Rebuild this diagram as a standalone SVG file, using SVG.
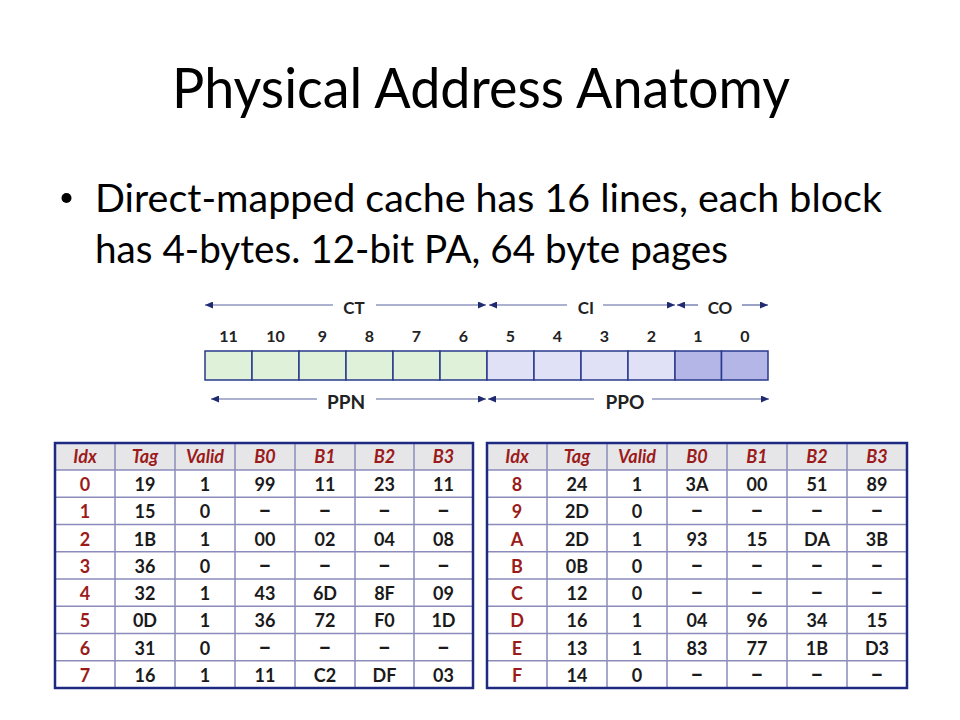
<svg xmlns="http://www.w3.org/2000/svg" width="960" height="720" viewBox="0 0 960 720">
<defs>
<marker id="ah" viewBox="0 0 8 7" refX="8" refY="3.5" markerWidth="8" markerHeight="7" markerUnits="userSpaceOnUse" orient="auto-start-reverse">
<path d="M0,0 L8,3.5 L0,7 z" fill="#1f2a70"/>
</marker>
</defs>
<style>
.title{font-family:Lato,"Open Sans","Liberation Sans",sans-serif;font-size:56px;fill:#000}
.bul{font-family:Lato,"Open Sans","Liberation Sans",sans-serif;font-size:38px;fill:#000}
.lbl{font-family:Lato,"Liberation Sans",sans-serif;font-weight:bold;font-size:17px;fill:#222;text-anchor:middle}
.lbl2{font-family:Lato,"Liberation Sans",sans-serif;font-weight:bold;font-size:19px;fill:#222;text-anchor:middle}
.bit{font-family:Lato,"Liberation Sans",sans-serif;font-weight:bold;font-size:16px;fill:#222;text-anchor:middle}
.g{fill:#e0f1da;stroke:#2a3a8c;stroke-width:1.5}
.p{fill:#e0e0f6;stroke:#2a3a8c;stroke-width:1.5}
.d{fill:#b4b6e8;stroke:#2a3a8c;stroke-width:1.5}
.ar{stroke:#5a64a0;stroke-width:1.2;fill:none}
.hdr{fill:#e6e6e8}
.grid{stroke:#8c8cbc;stroke-width:1.5;fill:none}
.frame{stroke:#1e2a82;stroke-width:2.5;fill:none}
.h{font-family:Lato,"Liberation Sans",sans-serif;font-weight:bold;font-style:italic;font-size:18px;fill:#9b1b1b;text-anchor:middle}
.i{font-family:Lato,"Liberation Sans",sans-serif;font-weight:bold;font-size:18px;fill:#9b1b1b;text-anchor:middle}
.c{font-family:Lato,"Liberation Sans",sans-serif;font-weight:bold;font-size:18px;fill:#1a1a1a;text-anchor:middle}
.x{font-family:Lato,"Liberation Sans",sans-serif;font-weight:900;font-size:23px;fill:#1a1a1a;text-anchor:middle}
</style>
<rect width="960" height="720" fill="#fff"/>

<g id="title">
<text class="title" x="172" y="108" textLength="618" lengthAdjust="spacingAndGlyphs">Physical Address Anatomy</text>
</g>

<g id="bullet">
<circle cx="66.5" cy="198" r="5" fill="#000"/>
<text class="bul" x="95" y="212" textLength="787" lengthAdjust="spacingAndGlyphs">Direct-mapped cache has 16 lines, each block</text>
<text class="bul" x="95" y="263" textLength="633" lengthAdjust="spacingAndGlyphs">has 4-bytes. 12-bit PA, 64 byte pages</text>
</g>

<g id="address-bits">
<rect class="g" x="205" y="351" width="47" height="29"/>
<rect class="g" x="252" y="351" width="47" height="29"/>
<rect class="g" x="299" y="351" width="47" height="29"/>
<rect class="g" x="346" y="351" width="47" height="29"/>
<rect class="g" x="393" y="351" width="47" height="29"/>
<rect class="g" x="440" y="351" width="47" height="29"/>
<rect class="p" x="487" y="351" width="47" height="29"/>
<rect class="p" x="534" y="351" width="47" height="29"/>
<rect class="p" x="581" y="351" width="47" height="29"/>
<rect class="p" x="628" y="351" width="47" height="29"/>
<rect class="d" x="675" y="351" width="46.5" height="29"/>
<rect class="d" x="721.5" y="351" width="46.5" height="29"/>
<text class="bit" x="228.5" y="342">11</text>
<text class="bit" x="275.5" y="342">10</text>
<text class="bit" x="322.5" y="342">9</text>
<text class="bit" x="369.5" y="342">8</text>
<text class="bit" x="416.5" y="342">7</text>
<text class="bit" x="463.5" y="342">6</text>
<text class="bit" x="510.5" y="342">5</text>
<text class="bit" x="557.5" y="342">4</text>
<text class="bit" x="604.5" y="342">3</text>
<text class="bit" x="651.5" y="342">2</text>
<text class="bit" x="698" y="342">1</text>
<text class="bit" x="745" y="342">0</text>
<text class="lbl" x="354" y="314">CT</text>
<text class="lbl" x="586" y="314">CI</text>
<text class="lbl" x="720" y="314">CO</text>
<text class="lbl2" x="346" y="409">PPN</text>
<text class="lbl2" x="625" y="409">PPO</text>
</g>

<g id="connectors">
<line class="ar" x1="333" y1="305" x2="205" y2="305" marker-end="url(#ah)"/>
<line class="ar" x1="376" y1="305" x2="486" y2="305" marker-end="url(#ah)"/>
<line class="ar" x1="567" y1="305" x2="489" y2="305" marker-end="url(#ah)"/>
<line class="ar" x1="603" y1="305" x2="675" y2="305" marker-end="url(#ah)"/>
<line class="ar" x1="698" y1="305" x2="677" y2="305" marker-end="url(#ah)"/>
<line class="ar" x1="742" y1="305" x2="768" y2="305" marker-end="url(#ah)"/>
<line class="ar" x1="317" y1="399" x2="211" y2="399" marker-end="url(#ah)"/>
<line class="ar" x1="376" y1="399" x2="486" y2="399" marker-end="url(#ah)"/>
<line class="ar" x1="594" y1="399" x2="488" y2="399" marker-end="url(#ah)"/>
<line class="ar" x1="652" y1="399" x2="769" y2="399" marker-end="url(#ah)"/>
</g>

<g id="cache-table-left">
<rect x="55" y="443" width="418" height="245" fill="#fff"/>
<rect class="hdr" x="55" y="443" width="418" height="27"/>
<path class="grid" d="M55,470H473 M55,497.25H473 M55,524.5H473 M55,551.75H473 M55,579H473 M55,606.25H473 M55,633.5H473 M55,660.75H473 M115,443V688 M175,443V688 M235,443V688 M295,443V688 M355,443V688 M414,443V688"/>
<rect class="frame" x="55" y="443" width="418" height="245"/>
<text class="h" x="85" y="463">Idx</text><text class="h" x="145" y="463">Tag</text><text class="h" x="205" y="463">Valid</text><text class="h" x="265" y="463">B0</text><text class="h" x="325" y="463">B1</text><text class="h" x="384.5" y="463">B2</text><text class="h" x="443.5" y="463">B3</text>
<text class="i" x="85" y="491">0</text><text class="c" x="145" y="491">19</text><text class="c" x="205" y="491">1</text><text class="c" x="265" y="491">99</text><text class="c" x="325" y="491">11</text><text class="c" x="384.5" y="491">23</text><text class="c" x="443.5" y="491">11</text>
<text class="i" x="85" y="518.25">1</text><text class="c" x="145" y="518.25">15</text><text class="c" x="205" y="518.25">0</text><text class="x" x="265" y="518.25">–</text><text class="x" x="325" y="518.25">–</text><text class="x" x="384.5" y="518.25">–</text><text class="x" x="443.5" y="518.25">–</text>
<text class="i" x="85" y="545.5">2</text><text class="c" x="145" y="545.5">1B</text><text class="c" x="205" y="545.5">1</text><text class="c" x="265" y="545.5">00</text><text class="c" x="325" y="545.5">02</text><text class="c" x="384.5" y="545.5">04</text><text class="c" x="443.5" y="545.5">08</text>
<text class="i" x="85" y="572.75">3</text><text class="c" x="145" y="572.75">36</text><text class="c" x="205" y="572.75">0</text><text class="x" x="265" y="572.75">–</text><text class="x" x="325" y="572.75">–</text><text class="x" x="384.5" y="572.75">–</text><text class="x" x="443.5" y="572.75">–</text>
<text class="i" x="85" y="600">4</text><text class="c" x="145" y="600">32</text><text class="c" x="205" y="600">1</text><text class="c" x="265" y="600">43</text><text class="c" x="325" y="600">6D</text><text class="c" x="384.5" y="600">8F</text><text class="c" x="443.5" y="600">09</text>
<text class="i" x="85" y="627.25">5</text><text class="c" x="145" y="627.25">0D</text><text class="c" x="205" y="627.25">1</text><text class="c" x="265" y="627.25">36</text><text class="c" x="325" y="627.25">72</text><text class="c" x="384.5" y="627.25">F0</text><text class="c" x="443.5" y="627.25">1D</text>
<text class="i" x="85" y="654.5">6</text><text class="c" x="145" y="654.5">31</text><text class="c" x="205" y="654.5">0</text><text class="x" x="265" y="654.5">–</text><text class="x" x="325" y="654.5">–</text><text class="x" x="384.5" y="654.5">–</text><text class="x" x="443.5" y="654.5">–</text>
<text class="i" x="85" y="681.75">7</text><text class="c" x="145" y="681.75">16</text><text class="c" x="205" y="681.75">1</text><text class="c" x="265" y="681.75">11</text><text class="c" x="325" y="681.75">C2</text><text class="c" x="384.5" y="681.75">DF</text><text class="c" x="443.5" y="681.75">03</text>
</g>

<g id="cache-table-right">
<rect x="487" y="443" width="420" height="245" fill="#fff"/>
<rect class="hdr" x="487" y="443" width="420" height="27"/>
<path class="grid" d="M487,470H907 M487,497.25H907 M487,524.5H907 M487,551.75H907 M487,579H907 M487,606.25H907 M487,633.5H907 M487,660.75H907 M547,443V688 M607,443V688 M667,443V688 M727,443V688 M787,443V688 M847,443V688"/>
<rect class="frame" x="487" y="443" width="420" height="245"/>
<text class="h" x="517" y="463">Idx</text><text class="h" x="577" y="463">Tag</text><text class="h" x="637" y="463">Valid</text><text class="h" x="697" y="463">B0</text><text class="h" x="757" y="463">B1</text><text class="h" x="817" y="463">B2</text><text class="h" x="877" y="463">B3</text>
<text class="i" x="517" y="491">8</text><text class="c" x="577" y="491">24</text><text class="c" x="637" y="491">1</text><text class="c" x="697" y="491">3A</text><text class="c" x="757" y="491">00</text><text class="c" x="817" y="491">51</text><text class="c" x="877" y="491">89</text>
<text class="i" x="517" y="518.25">9</text><text class="c" x="577" y="518.25">2D</text><text class="c" x="637" y="518.25">0</text><text class="x" x="697" y="518.25">–</text><text class="x" x="757" y="518.25">–</text><text class="x" x="817" y="518.25">–</text><text class="x" x="877" y="518.25">–</text>
<text class="i" x="517" y="545.5">A</text><text class="c" x="577" y="545.5">2D</text><text class="c" x="637" y="545.5">1</text><text class="c" x="697" y="545.5">93</text><text class="c" x="757" y="545.5">15</text><text class="c" x="817" y="545.5">DA</text><text class="c" x="877" y="545.5">3B</text>
<text class="i" x="517" y="572.75">B</text><text class="c" x="577" y="572.75">0B</text><text class="c" x="637" y="572.75">0</text><text class="x" x="697" y="572.75">–</text><text class="x" x="757" y="572.75">–</text><text class="x" x="817" y="572.75">–</text><text class="x" x="877" y="572.75">–</text>
<text class="i" x="517" y="600">C</text><text class="c" x="577" y="600">12</text><text class="c" x="637" y="600">0</text><text class="x" x="697" y="600">–</text><text class="x" x="757" y="600">–</text><text class="x" x="817" y="600">–</text><text class="x" x="877" y="600">–</text>
<text class="i" x="517" y="627.25">D</text><text class="c" x="577" y="627.25">16</text><text class="c" x="637" y="627.25">1</text><text class="c" x="697" y="627.25">04</text><text class="c" x="757" y="627.25">96</text><text class="c" x="817" y="627.25">34</text><text class="c" x="877" y="627.25">15</text>
<text class="i" x="517" y="654.5">E</text><text class="c" x="577" y="654.5">13</text><text class="c" x="637" y="654.5">1</text><text class="c" x="697" y="654.5">83</text><text class="c" x="757" y="654.5">77</text><text class="c" x="817" y="654.5">1B</text><text class="c" x="877" y="654.5">D3</text>
<text class="i" x="517" y="681.75">F</text><text class="c" x="577" y="681.75">14</text><text class="c" x="637" y="681.75">0</text><text class="x" x="697" y="681.75">–</text><text class="x" x="757" y="681.75">–</text><text class="x" x="817" y="681.75">–</text><text class="x" x="877" y="681.75">–</text>
</g>
</svg>
